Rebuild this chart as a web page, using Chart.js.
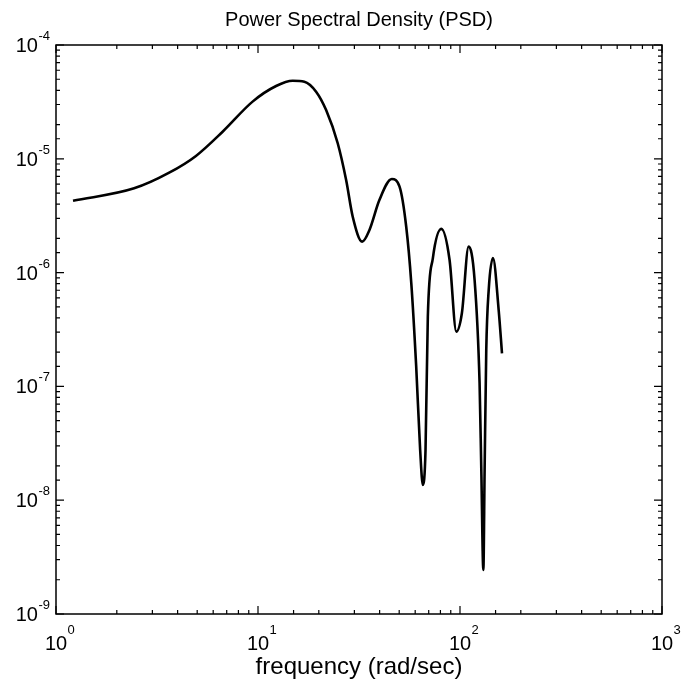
<!DOCTYPE html>
<html>
<head>
<meta charset="utf-8">
<script src="https://cdn.jsdelivr.net/npm/chart.js@4.4.1/dist/chart.umd.min.js"></script>
<style>
  html, body { margin: 0; padding: 0; background: #fff; }
  #wrap { width: 688px; height: 684px; }
</style>
</head>
<body>
<div id="wrap"><canvas id="psd" width="688" height="684"></canvas></div>
<script>
/* PSD curve (rad/sec vs PSD) */
const freq = [1.214, 2.436, 3.634, 4.93, 6.68, 9.40, 12.29, 14.85, 16.96, 19.39,
  21.74, 24.81, 27.31, 29.44, 32.79, 35.63, 39.9, 45.97, 50.2, 54.17,
  57.4, 60.7, 63.5, 65.5, 67.5, 69.3, 73.4, 80.8, 88.8, 95.9,
  102.2, 110.3, 118.1, 125.0, 127.5, 130.5, 132.4, 134.9, 138.7, 145.6,
  155.4, 161.4];
const psd = [4.28e-6, 5.5e-6, 7.55e-6, 1.06e-5, 1.73e-5, 3.18e-5, 4.36e-5, 4.85e-5, 4.76e-5, 3.89e-5,
  2.68e-5, 1.37e-5, 6.51e-6, 3.10e-6, 1.87e-6, 2.37e-6, 4.34e-6, 6.64e-6, 5.69e-6, 2.53e-6,
  8.05e-7, 1.49e-7, 2.76e-8, 1.36e-8, 2.76e-8, 4.09e-7, 1.34e-6, 2.42e-6, 1.29e-6, 3.03e-7,
  4.42e-7, 1.69e-6, 8.61e-7, 1.07e-7, 1.84e-8, 2.44e-9, 1.84e-8, 2.09e-7, 7.03e-7, 1.34e-6,
  4.69e-7, 1.95e-7];

const xRange = [1, 1000];
const yRange = [1e-9, 1e-4];

const FONT = "'Liberation Sans', Arial, Helvetica, sans-serif";

function isDecade(v) {
  const e = Math.log10(v);
  return Math.abs(e - Math.round(e)) < 1e-9;
}

/* box round the plot + inward ticks on all four sides */
const boxTicks = {
  id: 'boxTicks',
  afterDraw(chart) {
    const { ctx, chartArea: a, scales: { x, y } } = chart;
    ctx.save();
    ctx.strokeStyle = '#000';
    ctx.lineWidth = 1.5;
    ctx.strokeRect(a.left, a.top, a.right - a.left, a.bottom - a.top);
    ctx.lineWidth = 1.2;
    ctx.beginPath();
    x.ticks.forEach(t => {
      const px = x.getPixelForValue(t.value);
      const len = isDecade(t.value) ? 8 : 4;
      ctx.moveTo(px, a.bottom); ctx.lineTo(px, a.bottom - len);
      ctx.moveTo(px, a.top); ctx.lineTo(px, a.top + len);
    });
    y.ticks.forEach(t => {
      const py = y.getPixelForValue(t.value);
      const len = isDecade(t.value) ? 8 : 4;
      ctx.moveTo(a.left, py); ctx.lineTo(a.left + len, py);
      ctx.moveTo(a.right, py); ctx.lineTo(a.right - len, py);
    });
    ctx.stroke();
    ctx.restore();
  }
};

/* matlab style decade labels: "10" with a small raised exponent */
const decadeLabels = {
  id: 'decadeLabels',
  afterDraw(chart) {
    const { ctx, chartArea: a, scales: { x, y } } = chart;
    const base = '20px ' + FONT;
    const sup = '13px ' + FONT;
    ctx.save();
    ctx.fillStyle = '#000';
    ctx.textBaseline = 'alphabetic';

    x.ticks.filter(t => isDecade(t.value)).forEach(t => {
      const px = x.getPixelForValue(t.value);
      const e = String(Math.round(Math.log10(t.value)));
      ctx.font = base;
      const w = ctx.measureText('10').width;
      ctx.textAlign = 'left';
      ctx.fillText('10', px - w / 2, a.bottom + 36);
      ctx.font = sup;
      ctx.fillText(e, px + w / 2 + 0.5, a.bottom + 20);
    });

    y.ticks.filter(t => isDecade(t.value)).forEach(t => {
      const py = y.getPixelForValue(t.value);
      const e = String(Math.round(Math.log10(t.value)));
      ctx.font = sup;
      const we = ctx.measureText(e).width;
      ctx.textAlign = 'left';
      const ex = a.left - 6 - we;
      ctx.fillText(e, ex, py - 5);
      ctx.font = base;
      ctx.textAlign = 'right';
      ctx.fillText('10', ex - 0.5, py + 7);
    });
    ctx.restore();
  }
};

new Chart(document.getElementById('psd'), {
  type: 'scatter',
  data: {
    datasets: [{
      data: freq.map((f, i) => ({ x: f, y: psd[i] })),
      showLine: true,
      borderColor: '#000',
      borderWidth: 2.6,
      pointRadius: 0,
      cubicInterpolationMode: 'monotone'
    }]
  },
  options: {
    responsive: false,
    animation: false,
    layout: { padding: { left: 0, right: 26, top: 0, bottom: 0 } },
    plugins: {
      legend: { display: false },
      tooltip: { enabled: false },
      title: {
        display: true,
        fullSize: false,
        text: 'Power Spectral Density (PSD)',
        color: '#000',
        font: { family: FONT, size: 20, weight: 'normal' },
        padding: { top: 8, bottom: 13 }
      }
    },
    scales: {
      x: {
        type: 'logarithmic',
        min: xRange[0],
        max: xRange[1],
        grid: { display: false, drawTicks: false },
        border: { display: false },
        ticks: { display: false, autoSkip: false },
        title: {
          display: true,
          text: 'frequency (rad/sec)',
          color: '#000',
          font: { family: FONT, size: 24 },
          padding: { top: 0, bottom: 2 }
        },
        afterFit(s) { s.height = 70; s.paddingLeft = 0; s.paddingRight = 0; }
      },
      y: {
        type: 'logarithmic',
        min: yRange[0],
        max: yRange[1],
        grid: { display: false, drawTicks: false },
        border: { display: false },
        ticks: { display: false, autoSkip: false },
        afterFit(s) { s.width = 56; s.paddingTop = 0; s.paddingBottom = 0; }
      }
    }
  },
  plugins: [boxTicks, decadeLabels]
});
</script>
</body>
</html>
